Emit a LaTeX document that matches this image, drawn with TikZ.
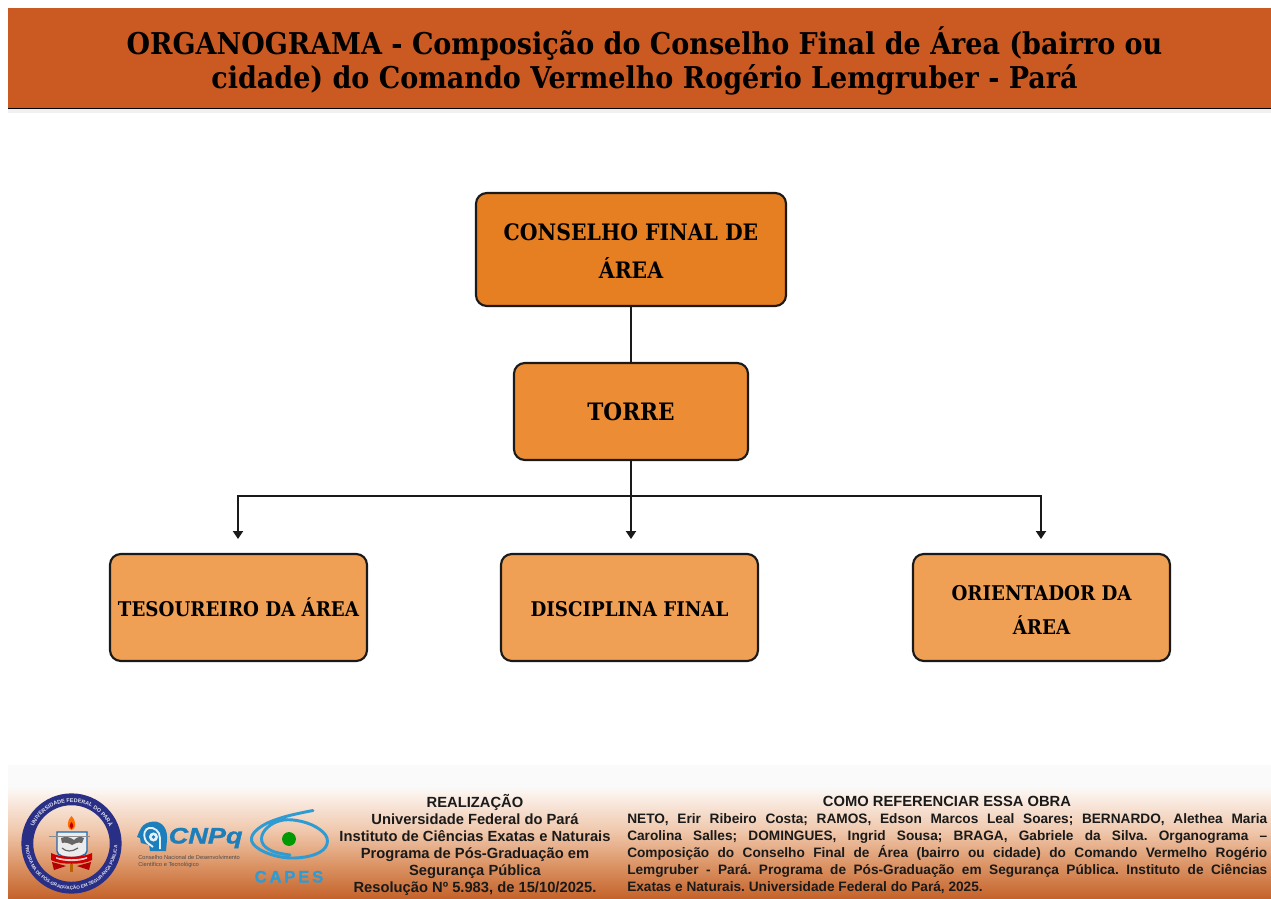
\documentclass[tikz,border=0pt]{standalone}
\usepackage{graphicx}
\usepackage{fontspec}
\setmainfont{Liberation Sans}
\newfontfamily\slabfont{DejaVu Serif Condensed}[BoldFont={* Bold}]
\usetikzlibrary{arrows.meta,calc,decorations.text}
\definecolor{barcol}{HTML}{CB5A22}
\definecolor{boxa}{HTML}{E67E22}
\definecolor{boxb}{HTML}{EC8D35}
\definecolor{boxc}{HTML}{F0A055}
\definecolor{inkcol}{HTML}{1A1A1A}
\definecolor{navycol}{HTML}{2A2F86}
\definecolor{cnpqcol}{HTML}{1C7FBB}
\definecolor{capescol}{HTML}{2F9BD3}
\definecolor{foota}{HTML}{C4622A}
\definecolor{footb}{HTML}{DB9364}
\definecolor{footc}{HTML}{EFC6AA}
\definecolor{footd}{HTML}{FBF1EA}
\definecolor{foote}{HTML}{FAFAFA}
\pgfdeclareverticalshading{footshade}{100bp}{color(0bp)=(foota); color(25bp)=(foota); color(37.5bp)=(footb); color(50bp)=(footc); color(64bp)=(footd); color(67bp)=(foote); color(100bp)=(foote)}
\tikzset{
  orgbox/.style={draw=inkcol,line width=1.6pt,rounded corners=8pt,inner sep=0pt,align=center,text=black,font=\slabfont\bfseries\fontsize{17pt}{28.5pt}\selectfont},
  lowbox/.style={orgbox,fill=boxc,minimum width=192.7pt,minimum height=80.2pt,font=\slabfont\bfseries\fontsize{15.2pt}{25.5pt}\selectfont},
  link/.style={draw=inkcol,line width=1.5pt},
  arrowlink/.style={link,-{Triangle[length=6pt,width=7.5pt]}},
  foothead/.style={inner sep=0pt,text=inkcol,align=center,font=\bfseries\fontsize{11.05pt}{12.75pt}\selectfont},
  footbody/.style={inner sep=0pt,text=inkcol,align=left,font=\frenchspacing\bfseries\fontsize{10.25pt}{12.65pt}\selectfont},
  sealarc/.style={decorate,decoration={text along path,text align=center}},
}
\newcommand{\jline}[1]{\makebox[480pt][s]{#1}}
\newcommand{\dn}[2]{\raisebox{-#1}[0.75em][0.2em]{#2}}
\begin{document}
\begin{tikzpicture}[x=0.75pt,y=-0.75pt]
\useasboundingbox (0,0) rectangle (1271,899);
\fill[white] (0,0) rectangle (1271,899);
% title
\fill[black!6] (8,108) rectangle (1271,113);
\fill[barcol] (8,8) rectangle (1271,108);
\draw[black,line width=1.4pt] (8,108.5) -- (1271,108.5);
\node[inner sep=0pt,align=center,text=black,font=\slabfont\bfseries\fontsize{22.5pt}{25.5pt}\selectfont] (title) at (644.5,60.5) {ORGANOGRAMA - Composição do Conselho Final de Área (bairro ou\\cidade) do Comando Vermelho Rogério Lemgruber - Pará};
% boxes
\node[orgbox,fill=boxa,minimum width=232.5pt,minimum height=84.7pt] (conselho) at (631,249.5) {\dn{3pt}{CONSELHO FINAL DE}\\\dn{3pt}{ÁREA}};
\node[orgbox,fill=boxb,minimum width=175.5pt,minimum height=72.7pt,font=\slabfont\bfseries\fontsize{18pt}{28pt}\selectfont] (torre) at (631,411.5) {\dn{2pt}{TORRE}};
\node[lowbox] (tes) at (238.5,607.5) {\dn{2.5pt}{TESOUREIRO DA ÁREA}};
\node[lowbox] (disc) at (629.5,607.5) {\dn{2.8pt}{DISCIPLINA FINAL}};
\node[lowbox] (ori) at (1041.5,607.5) {\dn{3pt}{ORIENTADOR DA}\\\dn{3pt}{ÁREA}};
% connectors
\coordinate (busc) at (631,496);
\coordinate (busl) at (238,496);
\coordinate (busr) at (1041,496);
\coordinate (endl) at (238,539);
\coordinate (endc) at (631,539);
\coordinate (endr) at (1041,539);
\draw[link] (conselho.south -| busc) -- (torre.north -| busc);
\draw[arrowlink] (torre.south -| busc) -- (endc);
\draw[arrowlink] (busc) -- (busl) -- (endl);
\draw[arrowlink] (busc) -- (busr) -- (endr);
% footer
\shade[shading=footshade] (8,765) rectangle (1271,899);
% seal
\coordinate (seal) at (71.5,843.5);
\fill[navycol,even odd rule] (seal) circle[radius=37.6pt] circle[radius=28.7pt];
\path[sealarc,decoration={text={|\fontsize{4.1pt}{5pt}\bfseries\color{white!85!navycol}|UNIVERSIDADE FEDERAL DO PARÁ}}] ($(seal)+(168:31pt)$) arc[start angle=168,end angle=12,radius=31pt];
\path[sealarc,decoration={text={|\fontsize{3.5pt}{5pt}\bfseries\color{white!85!navycol}|PROGRAMA DE PÓS-GRADUAÇÃO EM SEGURANÇA PÚBLICA}}] ($(seal)+(175:34.5pt)$) arc[start angle=175,end angle=365,radius=34.5pt];
% crest
\fill[orange!85!red] (71.5,816) .. controls (66,822) and (67,829) .. (71.5,830) .. controls (76,829) and (77,822) .. (71.5,816);
\fill[red!75!black] (71.5,822) .. controls (69,825) and (69,828) .. (71.5,829) .. controls (74,828) and (74,825) .. (71.5,822);
\draw[cnpqcol!70!navycol,line width=1pt,fill=white!92!black] (57,832) -- (87,832) -- (87,851) .. controls (87,856) and (77,857) .. (72,858) .. controls (65,857) and (57,856) .. (57,851) -- cycle;
\fill[black!60] (61,838) .. controls (66,836) and (70,837) .. (74,840) .. controls (77,837) and (80,836) .. (84,838) -- (82,843) .. controls (78,842) and (75,843) .. (72,845) .. controls (69,843) and (65,842) .. (62,843) -- cycle;
\draw[black!60,line width=0.9pt] (62,848) .. controls (66,852) and (72,852) .. (78,848);
\draw[black!45,line width=0.6pt] (49,836) -- (90,836);
\fill[red!80!black] (51,853) .. controls (60,858) and (83,858) .. (92,853) -- (92,860) .. controls (83,865) and (60,865) .. (51,860) -- cycle;
\fill[white!80!red] (56,857) .. controls (64,860) and (79,860) .. (87,857) -- (87,858.5) .. controls (79,862) and (64,862) .. (56,858.5) -- cycle;
\fill[red!70!black] (52,862) -- (66,866) -- (54,870) -- cycle;
\fill[red!70!black] (91,862) -- (77,866) -- (89,870) -- cycle;
\fill[orange!75!black] (70,864) rectangle (73,872);
% CNPq
\fill[cnpqcol] (166,851) -- (150,851) -- (149,845) -- (141,843) -- (140,838) -- (137,837) .. controls (140,830) and (141,823) .. (153,821.5) .. controls (163,821) and (168,830) .. (167,840) -- cycle;
\draw[white!88!cnpqcol,line width=1.4pt] (160,849) -- (160,838) .. controls (160,831) and (154,827) .. (149,828) .. controls (145,829) and (143,834) .. (145,839) .. controls (146,843) and (151,845) .. (153,847);
\fill[white!88!cnpqcol] (153.5,837) circle[radius=3.4pt];
\fill[cnpqcol] (153.5,837) circle[radius=1.4pt];
\node[inner sep=0pt,anchor=base west,text=cnpqcol,font=\bfseries\itshape\fontsize{16.8pt}{20pt}\selectfont] (cnpq) at (168.5,843.5) {\scalebox{1.21}[1]{\addfontfeature{FakeBold=1.2}CNPq}};
\node[inner sep=0pt,anchor=north west,align=left,text=black!70,font=\fontsize{4.3pt}{5.1pt}\selectfont] (cnpqsub) at (138,855) {Conselho Nacional de Desenvolvimento\\Científico e Tecnológico};
% CAPES
\draw[capescol,line width=2.2pt,line cap=round,smooth,tension=0.65] plot coordinates {(313,810.5) (284,817) (262,826) (251.5,838) (259,849) (281,857) (305,857) (323,850) (327,838) (316,827) (297,820.5) (279,821) (265,830) (262,842) (272,851) (290,855)};
\fill[green!60!black] (289,839) circle[radius=5.2pt];
\node[inner sep=0pt,anchor=base,text=capescol,font=\bfseries\fontsize{12.5pt}{14pt}\selectfont] (capes) at (289,882.5) {\addfontfeature{FakeBold=1.0}C\,A\,P\,E\,S};
% footer text
\node[foothead] (real) at (475,845) {REALIZAÇÃO\\Universidade Federal do Pará\\Instituto de Ciências Exatas e Naturais\\Programa de Pós-Graduação em\\Segurança Pública\\Resolução Nº 5.983, de 15/10/2025.};
\node[foothead,anchor=base] (comohead) at (947,806.5) {COMO REFERENCIAR ESSA OBRA};
\node[footbody,anchor=north west] (ref) at (627,813.5) {\jline{NETO, Erir Ribeiro Costa; RAMOS, Edson Marcos Leal Soares; BERNARDO, Alethea Maria}\\
\jline{Carolina Salles; DOMINGUES, Ingrid Sousa; BRAGA, Gabriele da Silva. Organograma –}\\
\jline{Composição do Conselho Final de Área (bairro ou cidade) do Comando Vermelho Rogério}\\
\jline{Lemgruber - Pará. Programa de Pós-Graduação em Segurança Pública. Instituto de Ciências}\\
Exatas e Naturais. Universidade Federal do Pará, 2025.};
\end{tikzpicture}
\end{document}
